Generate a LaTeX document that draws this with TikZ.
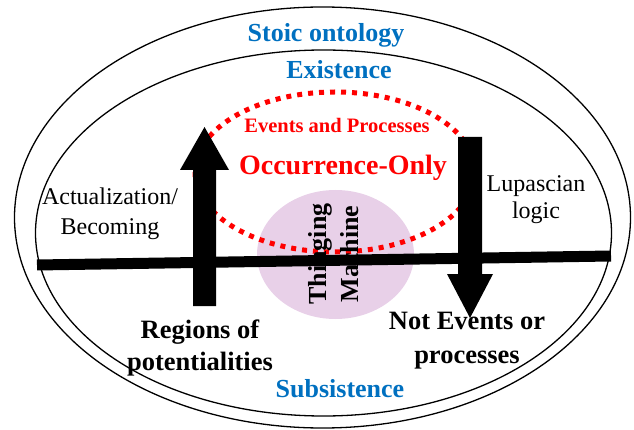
\documentclass[tikz,border=0pt]{standalone}
\usepackage{fontspec}
\setmainfont{Liberation Serif}
\usetikzlibrary{shapes.geometric}
\definecolor{stoicblue}{HTML}{0070C0}
\definecolor{tmpurple}{HTML}{E8D0E8}
\definecolor{occred}{HTML}{FF0000}
\begin{document}
\begin{tikzpicture}[x=1pt,y=-1pt,
  ring/.style={ellipse, draw=black, line width=1.3pt, inner sep=0pt},
  bluetitle/.style={inner sep=0pt, anchor=base, text=stoicblue, font=\fontsize{26}{30}\selectfont\bfseries},
  plainlabel/.style={inner sep=0pt, align=center, font=\fontsize{24}{30}\selectfont},
  boldlabel/.style={inner sep=0pt, align=center, font=\fontsize{26.5}{33}\selectfont\bfseries},
  blockarrow/.style={fill=black},
  dotted ring/.style={draw=occred, line width=5pt, dash pattern=on 5pt off 6pt},
]
\useasboundingbox (0,0) rectangle (634,430);
% ellipses
\node[ring, minimum width=616pt, minimum height=421pt] (outer) at (322.5,217.5) {};
\node[ring, minimum width=576pt, minimum height=366pt] (inner) at (323.5,233) {};
% Thinging machine disc
\node[ellipse, fill=tmpurple, inner sep=0pt, minimum width=157pt, minimum height=129pt] (tmdisc) at (335.5,254.5) {};
% red dotted occurrence ellipse
\node[ellipse, dotted ring, inner sep=0pt, minimum width=280pt, minimum height=160pt] (occ) at (335,172) {};
% horizontal bar
\coordinate (barL) at (37,265);
\coordinate (barR) at (611,256);
\draw[line width=11pt] (barL) -- (barR);
% block arrows
\path[blockarrow] (193,306) -- (193,170) -- (180,170) -- (204.5,127) -- (229,170) -- (216,170) -- (216,306) -- cycle;
\path[blockarrow] (458,137) -- (482,137) -- (482,274) -- (493,274) -- (470,318) -- (447,274) -- (458,274) -- cycle;
% titles
\node[bluetitle] (stoic) at (326,42) {Stoic ontology};
\node[bluetitle] (exist) at (339,79) {Existence};
\node[bluetitle] (subs) at (340,397) {Subsistence};
% red texts
\node[inner sep=0pt, anchor=base, text=occred, font=\fontsize{20.5}{24}\selectfont\bfseries] (evp) at (337,133) {Events and Processes};
\node[inner sep=0pt, anchor=base, text=occred, font=\fontsize{28}{32}\selectfont\bfseries] (occonly) at (343,175) {Occurrence-Only};
% side labels
\node[plainlabel] (actual) at (110,213.5) {Actualization/\\Becoming};
\node[plainlabel, font=\fontsize{24}{27}\selectfont] (lupas) at (536,200) {Lupascian\\logic};
\node[boldlabel, font=\fontsize{26.5}{32}\selectfont\bfseries] (regions) at (200,348) {Regions of\\potentialities};
\node[boldlabel, font=\fontsize{26.5}{34}\selectfont\bfseries] (notev) at (467,341) {Not Events or\\processes};
% rotated label
\node[inner sep=0pt, align=center, rotate=90, font=\fontsize{26}{32}\selectfont\bfseries] (tm) at (334,254) {Thinging\\Machine};
\end{tikzpicture}
\end{document}
